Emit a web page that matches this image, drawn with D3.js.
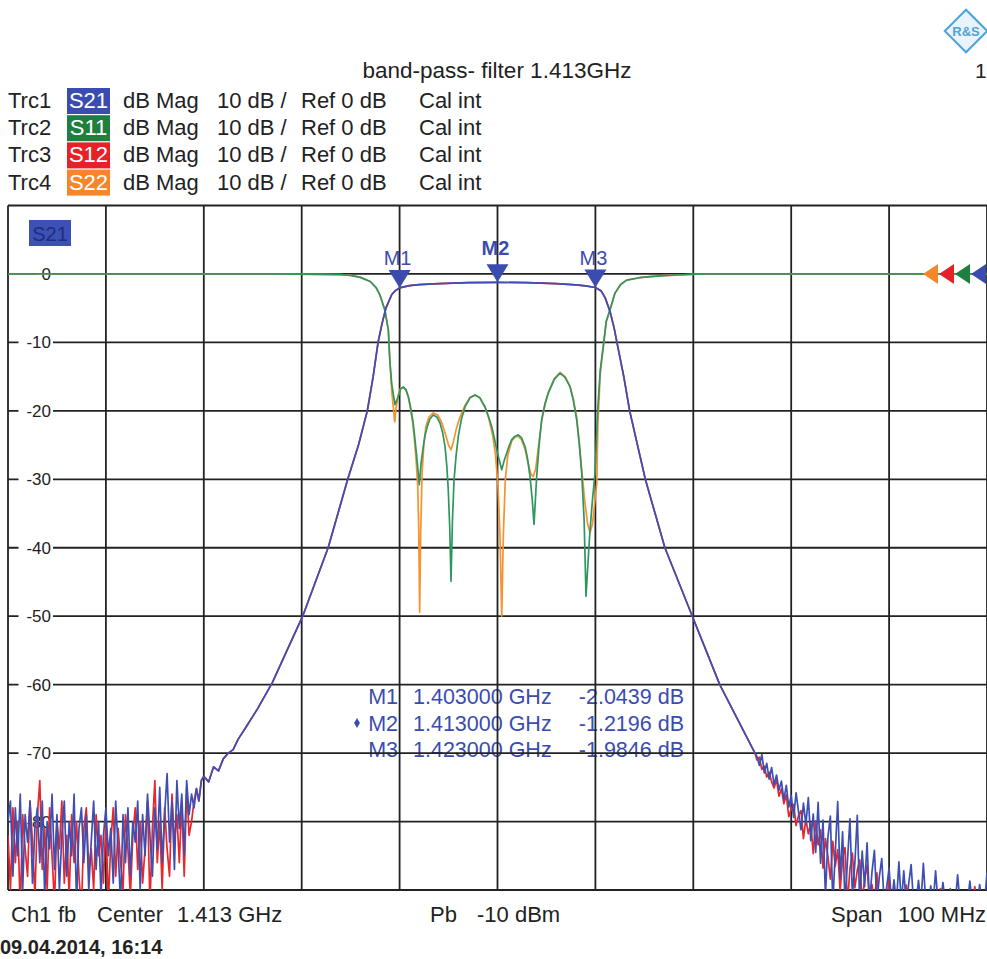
<!DOCTYPE html>
<html>
<head>
<meta charset="utf-8">
<script src="https://cdn.jsdelivr.net/npm/d3@7"></script>
<style>
  body { margin: 0; background: #fff; }
  svg { display: block; font-family: "Liberation Sans", Arial, sans-serif; }
</style>
</head>
<body>
<svg id="chart" width="987" height="959"></svg>
<script>
// frequency axis in MHz, level axis in dB
const freqRange = [1363, 1463];
const levelRange = [10, -90];
const levelTicks = [0, -10, -20, -30, -40, -50, -60, -70, -80];

const traceNames = ["Trc1", "Trc2", "Trc3", "Trc4"];
const traceParams = ["S21", "S11", "S12", "S22"];
const traceColors = ["#3d4fb3", "#2f9660", "#e8272c", "#f7922f"];
const boxColors = ["#3a4cb0", "#1f7f3f", "#e62228", "#f5862a"];

const markerNames = ["M1", "M2", "M3"];
const markerFreqs = [1403, 1413, 1423];
const markerLevels = [-2.0439, -1.2196, -1.9846];

// noisy floor, one value every 0.25 MHz
const noiseStep = 0.25;
const noiseLeftStart = 1363;
const noiseRightStart = 1439.5;

const s21NoiseLeft = [
  -80, -77, -88, -78, -85, -76, -90, -79, -83, -77,
  -89, -81, -78, -86, -77, -91, -80, -84, -76, -87,
  -79, -90, -82, -77, -88, -80, -85, -76, -92, -81,
  -78, -86, -79, -90, -83, -77, -87, -80, -91, -82,
  -78, -85, -81, -89, -77, -84, -92, -79, -86, -78,
  -88, -80, -83, -77, -90, -79, -85, -76, -82, -88,
  -78, -84, -75, -86, -79, -73, -83, -77, -87, -74,
  -81, -76, -85, -74, -79, -76, -78
];
const s12NoiseLeft = [
  -82, -90, -78, -86, -80, -93, -79, -84, -88, -77,
  -83, -91, -79, -74, -87, -81, -90, -78, -85, -92,
  -80, -84, -77, -89, -82, -91, -79, -86, -80, -88,
  -93, -81, -78, -87, -84, -90, -79, -85, -82, -89,
  -80, -92, -83, -78, -88, -81, -86, -90, -79, -84,
  -91, -82, -78, -87, -80, -89, -84, -77, -92, -81,
  -74, -86, -80, -90, -78, -84, -88, -76, -83, -79,
  -86, -77, -88, -75, -82, -80, -77
];
const s21NoiseRight = [
  -70.5, -71.8, -70.2, -72.9, -71.5, -73.8, -72.1, -74.6, -73.2, -75.4,
  -74.1, -76.8, -74.7, -77.9, -76.2, -79.4, -75.8, -78.6, -81.2, -77.3,
  -80.4, -76.5, -82.8, -78.9, -84.5, -77.2, -86.1, -79.8, -91, -82.3,
  -79.2, -92, -84.6, -77.1, -88.3, -81.5, -92, -85.7, -79.6, -90.8,
  -86.2, -79.1, -92, -84.3, -89.5, -83.1, -92, -87.4, -84.2, -92,
  -88.1, -85.4, -92, -89.6, -86.8, -92, -88.5, -92, -85.9, -92,
  -87.2, -92, -89.1, -86.3, -92, -92, -88.6, -92, -86.1, -92,
  -92, -89.4, -92, -87.2, -92, -92, -88.9, -92, -92, -89.8,
  -92, -92, -87.8, -92, -92, -90.5, -92, -88.7, -92, -92,
  -92, -89.2, -92, -92, -87.5
];
const s12NoiseRight = [
  -71, -70.6, -72.4, -71.9, -73.5, -72.8, -74.2, -75.1, -73.9, -76.3,
  -75.2, -77.4, -76.1, -79.3, -78.2, -77.5, -80.6, -79.1, -78.4, -82.5,
  -79.6, -81.8, -80.2, -84.7, -79.9, -83.4, -81.2, -86.8, -82.5, -85.1,
  -88.4, -82.9, -86.5, -84.1, -90.2, -85.3, -83.8, -92, -86.9, -84.6,
  -89.7, -87.1, -85.6, -92, -88.3, -86.4, -92, -89.2, -92, -87.5,
  -92, -90.1, -92, -92, -88.4, -92, -92, -91, -92, -92,
  -92, -89.3, -92, -92, -92, -90.4, -92, -92, -92, -92,
  -91.2, -92, -92, -92, -92, -89.8, -92, -92, -92, -92,
  -92, -92, -92, -90.6, -92, -92, -92, -92, -92, -89.5,
  -92, -92, -92, -92, -92
];

// transmission skirts and passband [MHz, dB]
const s21Skirt = [
  [1382.25, -75.2], [1382.5, -77], [1382.75, -74], [1383, -73.4], [1383.5, -74.2],
  [1384, -72], [1384.5, -72.6], [1385, -70.8], [1385.5, -70], [1386, -69.5],
  [1386.5, -68], [1387.4, -66], [1388.5, -63.5], [1390, -59.7], [1391.5, -55],
  [1393.1, -50], [1394.4, -45], [1395.7, -40], [1396.7, -35], [1397.7, -30],
  [1398.8, -25], [1399.7, -20], [1400.3, -15], [1400.8, -10], [1401.2, -7.3],
  [1401.6, -5], [1402.2, -3], [1402.6, -2.4], [1403, -2.04], [1404, -1.7],
  [1405, -1.55], [1407, -1.4], [1410, -1.28], [1413, -1.22], [1416, -1.28],
  [1419, -1.42], [1421, -1.6], [1422, -1.75], [1423, -1.98], [1423.6, -2.5],
  [1424, -3.5], [1424.5, -5.5], [1424.9, -7.8], [1425.2, -10], [1425.9, -15],
  [1426.5, -20], [1427.3, -25], [1428.1, -30], [1429.1, -35], [1430.1, -40],
  [1431.5, -45], [1432.9, -50], [1434.3, -55], [1435.7, -60], [1437.5, -65],
  [1439.3, -70]
];

const s11Points = [
  [1363, 0], [1390, 0], [1395, -0.05], [1397, -0.1], [1398, -0.2], [1399, -0.5],
  [1400, -1.1], [1400.6, -2], [1401, -3.1], [1401.5, -5.3], [1401.85, -8.2],
  [1402, -12.6], [1402.19, -16], [1402.36, -17.6], [1402.53, -19.1], [1402.87, -17.9],
  [1403.1, -16.8], [1403.38, -16.5], [1403.65, -16.9], [1403.89, -17.9], [1404.1, -19.3],
  [1404.34, -21.3], [1404.5, -23.2], [1404.68, -25.7], [1404.85, -28.2], [1405.01, -30.8],
  [1405.2, -27.6], [1405.42, -25.2], [1405.6, -23.6], [1405.83, -22.3], [1406.1, -21.2],
  [1406.44, -20.6], [1406.8, -20.9], [1407.13, -21.8], [1407.4, -23.2], [1407.64, -25.2],
  [1407.82, -28], [1407.97, -31.5], [1408.12, -37], [1408.25, -44.9], [1408.4, -36],
  [1408.56, -30.1], [1408.78, -26.4], [1409, -23.7], [1409.3, -21.3], [1409.68, -19.4],
  [1410.2, -18.1], [1410.7, -17.7], [1411.2, -18.1], [1411.72, -19.4], [1412.05, -20.7],
  [1412.41, -22.3], [1412.68, -24], [1412.92, -25.7], [1413.2, -27.3], [1413.43, -28.6],
  [1413.7, -27.2], [1413.94, -26.2], [1414.2, -25.1], [1414.45, -24.2], [1414.8, -23.7],
  [1415.12, -23.5], [1415.45, -23.9], [1415.81, -25.2], [1416.05, -26.8], [1416.32, -29.6],
  [1416.55, -33], [1416.73, -36.6], [1416.87, -33], [1417, -29.6], [1417.25, -25],
  [1417.51, -21.3], [1417.85, -19], [1418.19, -17.4], [1418.8, -15.4], [1419.38, -14.5],
  [1419.9, -15.1], [1420.41, -16.5], [1420.75, -18.5], [1421.09, -21.3], [1421.35, -24.8],
  [1421.6, -29.1], [1421.85, -36], [1422.04, -47.1], [1422.25, -42], [1422.45, -37.4],
  [1422.7, -33], [1422.96, -29.1], [1423.25, -19.5], [1423.5, -14], [1423.85, -10],
  [1424.1, -7], [1424.5, -5.2], [1425, -2.8], [1425.6, -1.5], [1426.2, -0.9],
  [1427.5, -0.55], [1428.6, -0.4], [1430, -0.25], [1431.4, -0.15], [1434, 0], [1463, 0]
];

const s22Points = [
  [1363, 0], [1390, 0], [1395, -0.05], [1397, -0.1], [1398, -0.2], [1399, -0.5],
  [1400, -1.1], [1400.6, -2], [1401, -3.1], [1401.5, -5.3], [1401.85, -8.2],
  [1402, -12.6], [1402.19, -17], [1402.36, -19.5], [1402.5, -21.6], [1402.65, -19.5],
  [1402.87, -17.6], [1403.1, -16.7], [1403.38, -16.6], [1403.65, -17], [1403.89, -18],
  [1404.1, -19.6], [1404.34, -21.8], [1404.5, -24], [1404.68, -27], [1404.85, -31],
  [1404.95, -37], [1405.05, -49.4], [1405.15, -38], [1405.3, -29], [1405.5, -24.5],
  [1405.7, -22.2], [1406, -20.9], [1406.44, -20.3], [1406.9, -20.6], [1407.3, -21.7],
  [1407.64, -23.2], [1408, -25], [1408.25, -25.7], [1408.5, -24.5], [1408.8, -22.6],
  [1409.1, -21.2], [1409.68, -19.2], [1410.2, -18], [1410.7, -17.7], [1411.2, -18.1],
  [1411.72, -19.5], [1412.1, -21], [1412.5, -23.5], [1412.8, -26.5], [1413.05, -31],
  [1413.25, -38], [1413.43, -50], [1413.6, -38], [1413.8, -30], [1414.05, -26.5],
  [1414.45, -24.4], [1414.8, -23.8], [1415.12, -23.7], [1415.45, -24.2], [1415.81, -25.6],
  [1416.1, -27.5], [1416.4, -29.2], [1416.65, -29.6], [1416.9, -28.5], [1417.2, -25],
  [1417.51, -21.5], [1417.85, -19], [1418.19, -17.3], [1418.8, -15.3], [1419.38, -14.4],
  [1419.9, -15], [1420.41, -16.4], [1420.75, -18.3], [1421.09, -21], [1421.35, -24.5],
  [1421.6, -28.5], [1421.9, -33], [1422.2, -36.5], [1422.45, -37.8], [1422.7, -36.5],
  [1422.96, -33], [1423.15, -30.5], [1423.25, -22], [1423.5, -14.5], [1423.85, -10.2],
  [1424.1, -7], [1424.5, -5.2], [1425, -2.8], [1425.6, -1.5], [1426.2, -0.9],
  [1427.5, -0.55], [1428.6, -0.4], [1430, -0.25], [1431.4, -0.15], [1434, 0], [1463, 0]
];

const footerWords = ["Ch1", "fb", "Center", "1.413 GHz", "Pb", "-10 dBm", "Span", "100 MHz"];
const footerX = [11, 58, 97, 177, 430, 477, 831, 898];
const dateText = "09.04.2014, 16:14";
const titleText = "band-pass- filter 1.413GHz";

// ---------------------------------------------------------------
const svg = d3.select("#chart");
const plot = { left: 8, right: 987, top: 205.5, bottom: 890 };

const x = d3.scaleLinear().domain(freqRange).range([plot.left, plot.right]);
const y = d3.scaleLinear().domain(levelRange).range([plot.top, plot.bottom]);

function noiseSeries(start, values) {
  return values.map((v, i) => [start + i * noiseStep, v]);
}
const s21Data = noiseSeries(noiseLeftStart, s21NoiseLeft)
  .concat(s21Skirt, noiseSeries(noiseRightStart, s21NoiseRight));
const s12Data = noiseSeries(noiseLeftStart, s12NoiseLeft)
  .concat(s21Skirt, noiseSeries(noiseRightStart, s12NoiseRight));

// title + legend
svg.append("text")
  .attr("x", 497).attr("y", 78)
  .attr("text-anchor", "middle")
  .style("font-size", "22.5px").style("fill", "#222")
  .text(titleText);

svg.append("text").attr("x", 975).attr("y", 78)
  .style("font-size", "21px").style("fill", "#222").text("1");

// R&S logo, roughly
let logo = svg.append("g").attr("transform", "translate(966,31)");
logo.append("rect").attr("x", -15).attr("y", -15).attr("width", 30).attr("height", 30)
  .attr("transform", "rotate(45)")
  .attr("fill", "#e8f3fb").attr("stroke", "#4ea3d8").attr("stroke-width", 2);
logo.append("text").attr("x", 0).attr("y", 5).attr("text-anchor", "middle")
  .style("font-size", "13px").style("font-weight", "bold").style("fill", "#4ea3d8")
  .text("R&S");

const legendRows = [0, 1, 2, 3].map(i => ({
  trc: traceNames[i], param: traceParams[i], box: boxColors[i]
}));
let legend = svg.selectAll("g.legendRow").data(legendRows).enter()
  .append("g").attr("class", "legendRow")
  .attr("transform", (d, i) => `translate(0,${108 + i * 27.2})`);
legend.append("text").attr("x", 8).text(d => d.trc).style("fill", "#222");
legend.append("rect").attr("x", 67).attr("y", -20).attr("width", 43).attr("height", 26)
  .attr("fill", d => d.box);
legend.append("text").attr("x", 88.5).attr("text-anchor", "middle")
  .style("fill", "#fff").text(d => d.param);
legend.append("text").attr("x", 123).text("dB Mag").style("fill", "#222");
legend.append("text").attr("x", 217).text("10 dB /").style("fill", "#222");
legend.append("text").attr("x", 301).text("Ref 0 dB").style("fill", "#222");
legend.append("text").attr("x", 419).text("Cal int").style("fill", "#222");
legend.selectAll("text").style("font-size", "22px");

// marker readout sits under the grid
let table = svg.append("g").style("font-size", "21.5px").style("fill", "#3a4cb0");
markerNames.forEach((m, i) => {
  let ty = 704 + i * 26.5;
  table.append("text").attr("x", 398).attr("y", ty).attr("text-anchor", "end").text(m);
  table.append("text").attr("x", 413).attr("y", ty)
    .text(`${(markerFreqs[i] / 1000).toFixed(6)} GHz`);
  table.append("text").attr("x", 684).attr("y", ty).attr("text-anchor", "end")
    .text(`${markerLevels[i].toFixed(4)} dB`);
});
table.append("path")
  .attr("d", d3.symbol(d3.symbolDiamond, 30)())
  .attr("transform", "translate(357,723)")
  .attr("fill", "#3a4cb0");

// grid
let grid = svg.append("g").attr("stroke", "#222").attr("stroke-width", 1.8);
d3.range(freqRange[0], freqRange[1] + 1, 10).forEach(f => {
  grid.append("line").attr("x1", x(f)).attr("x2", x(f))
    .attr("y1", plot.top).attr("y2", plot.bottom);
});
d3.range(levelRange[0], levelRange[1] - 1, -10).forEach(v => {
  grid.append("line").attr("x1", plot.left).attr("x2", plot.right)
    .attr("y1", y(v)).attr("y2", y(v));
});

// level labels with white patch over the grid line
let yLab = svg.append("g").style("font-size", "17px").style("fill", "#222");
levelTicks.forEach(v => {
  let label = v === 0 ? "0" : String(v);
  let w = label.length * 9.5 + 6;
  yLab.append("rect").attr("x", 53 - w).attr("y", y(v) - 8).attr("width", w).attr("height", 16)
    .attr("fill", "#fff");
  yLab.append("text").attr("x", 51).attr("y", y(v) + 6).attr("text-anchor", "end").text(label);
});

// S21 tag in plot corner
svg.append("rect").attr("x", 29).attr("y", 220).attr("width", 42).attr("height", 26)
  .attr("fill", "#3d50b4");
svg.append("text").attr("x", 50).attr("y", 241).attr("text-anchor", "middle")
  .style("font-size", "20px").style("fill", "#1e2c82").text("S21");

// traces
svg.append("clipPath").attr("id", "plotClip").append("rect")
  .attr("x", plot.left).attr("y", plot.top)
  .attr("width", plot.right - plot.left).attr("height", plot.bottom - plot.top);

const line = d3.line().x(d => x(d[0])).y(d => y(d[1]));
let traces = svg.append("g").attr("clip-path", "url(#plotClip)")
  .attr("fill", "none").attr("stroke-width", 1.7).attr("stroke-linejoin", "round");
[[s12Data, traceColors[2]], [s22Points, traceColors[3]],
 [s11Points, traceColors[1]], [s21Data, traceColors[0]]].forEach(([data, color]) => {
  traces.append("path").attr("d", line(data)).attr("stroke", color);
});

// markers on S21
let markers = svg.append("g").attr("fill", "#3a4cb0");
markerNames.forEach((m, i) => {
  let mx = x(markerFreqs[i]), my = y(markerLevels[i]);
  markers.append("path")
    .attr("d", `M${mx - 11},${my - 18} L${mx + 11},${my - 18} L${mx},${my} Z`);
  markers.append("text").attr("x", mx - 2).attr("y", my - (i === 1 ? 27 : 23))
    .attr("text-anchor", "middle")
    .style("font-size", "20px").style("font-weight", i === 1 ? "bold" : "normal")
    .text(m);
});

// reference level arrows on the right edge
let arrows = svg.append("g");
[3, 2, 1, 0].forEach((t, k) => {
  let ax = 923 + k * 16;
  arrows.append("path")
    .attr("d", `M${ax},${y(0)} L${ax + 15},${y(0) - 10} L${ax + 15},${y(0) + 10} Z`)
    .attr("fill", boxColors[t]);
});

// footer
let foot = svg.append("g").style("font-size", "22px").style("fill", "#222");
footerWords.forEach((w, i) => {
  foot.append("text").attr("x", footerX[i]).attr("y", 922).text(w);
});
svg.append("text").attr("x", 0).attr("y", 954)
  .style("font-size", "20px").style("font-weight", "bold").style("fill", "#222")
  .text(dateText);
</script>
</body>
</html>
